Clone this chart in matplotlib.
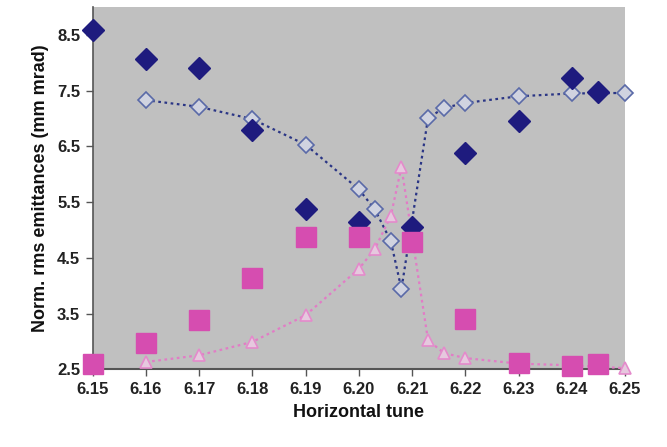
import matplotlib
matplotlib.use("Agg")
import matplotlib.pyplot as plt

# measured emittances (filled markers)
meas_tune = [6.15, 6.16, 6.17, 6.18, 6.19, 6.20, 6.21, 6.22, 6.23, 6.24, 6.245]
meas_x = [8.59, 8.07, 7.91, 6.80, 5.37, 5.14, 5.05, 6.38, 6.96, 7.73, 7.48]
meas_y = [2.60, 2.97, 3.38, 4.14, 4.87, 4.87, 4.78, 3.40, 2.61, 2.55, 2.60]

# simulated emittances (open markers, dotted)
sim_tune = [6.16, 6.17, 6.18, 6.19, 6.20, 6.203, 6.206, 6.208, 6.213, 6.216,
            6.22, 6.23, 6.24, 6.25]
sim_x = [7.33, 7.21, 6.99, 6.53, 5.73, 5.37, 4.80, 3.94, 7.01, 7.19,
         7.28, 7.40, 7.45, 7.46]
sim_y = [2.63, 2.75, 2.99, 3.47, 4.30, 4.66, 5.25, 6.13, 3.02, 2.79,
         2.70, 2.60, 2.57, 2.52]

xticks = [6.15, 6.16, 6.17, 6.18, 6.19, 6.20, 6.21, 6.22, 6.23, 6.24, 6.25]
yticks = [2.5, 3.5, 4.5, 5.5, 6.5, 7.5, 8.5]

plt.rcParams["font.family"] = ["Liberation Sans", "DejaVu Sans"]

fig = plt.figure(figsize=(6.67, 4.47), dpi=100)
ax = fig.add_axes([0.139, 0.174, 0.798, 0.81])
ax.set_facecolor("#C0C0C0")

navy = "#1E1B7E"
pink = "#D64DB0"

ax.plot(sim_tune, sim_x, linestyle=(0, (1.2, 1.6)), color="#2A3585", linewidth=1.6,
        marker="D", markersize=8.5, markerfacecolor="#D0D3E0",
        markeredgecolor="#5A6AA8", markeredgewidth=1.2, zorder=3)
ax.plot(sim_tune, sim_y, linestyle=(0, (1.2, 1.6)), color="#E27CC6", linewidth=1.6,
        marker="^", markersize=8, markerfacecolor="#E6C8DE",
        markeredgecolor="#E48ACB", markeredgewidth=1.2, zorder=3)
ax.plot(meas_tune, meas_x, linestyle="none", marker="D", markersize=11,
        color=navy, markeredgecolor=navy, zorder=4)
ax.plot(meas_tune, meas_y, linestyle="none", marker="s", markersize=14,
        color=pink, markeredgecolor=pink, zorder=4)

ax.set_xlim(6.15, 6.25)
ax.set_ylim(2.5, 9.0)
ax.set_xticks(xticks)
ax.set_xticklabels([f"{t:.2f}" for t in xticks])
ax.set_yticks(yticks)
ax.set_yticklabels([f"{t:.1f}" for t in yticks])
ax.tick_params(axis="both", direction="out", length=5, width=1, color="#555555",
               labelsize=12, labelcolor="#222222", pad=4)
for lbl in ax.get_xticklabels() + ax.get_yticklabels():
    lbl.set_fontweight("bold")

for side in ("top", "right"):
    ax.spines[side].set_visible(False)
ax.spines["left"].set_color("#555555")
ax.spines["bottom"].set_color("#555555")
ax.spines["left"].set_linewidth(1.2)
ax.spines["bottom"].set_linewidth(1.5)

ax.set_xlabel("Horizontal tune", fontsize=13, fontweight="bold", color="#111111",
              labelpad=5)
ax.set_ylabel("Norm. rms emittances (mm mrad)", fontsize=13, fontweight="bold",
              color="#111111", labelpad=6)

for a in ax.lines:
    a.set_clip_on(False)

fig.savefig("out.png", dpi=100)
